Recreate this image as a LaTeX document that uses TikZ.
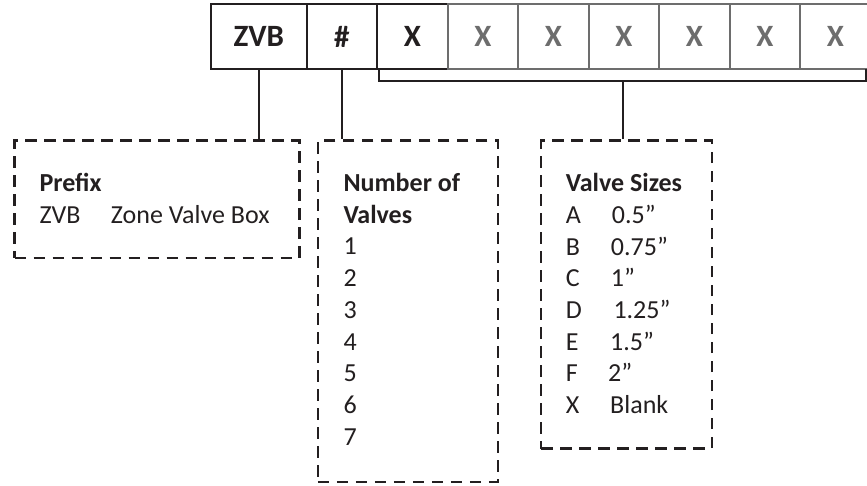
\documentclass[tikz,border=0pt]{standalone}
\usepackage{fontspec}
\setmainfont{Carlito}
\usepackage{xcolor}
\usetikzlibrary{positioning}
\definecolor{ink}{HTML}{231F20}
\definecolor{greyx}{HTML}{6D6D6D}
\begin{document}
\begin{tikzpicture}[x=1pt,y=-1pt,
	codebox/.style={draw=ink,line width=2pt,minimum width=70.5pt,minimum height=65pt,inner sep=0pt,outer sep=0pt,text=ink,font=\fontsize{31}{31}\selectfont\bfseries},
	greybox/.style={codebox,draw=greyx,text=greyx},
	conn/.style={draw=ink,line width=2.1pt},
	keybox/.style={draw=ink,line width=2.4pt,dash pattern=on 11.5pt off 7.5pt,anchor=north west,inner sep=0pt},
	keyhead/.style={anchor=base west,inner sep=0pt,text=ink,font=\fontsize{26}{30}\selectfont\bfseries},
	keyline/.style={anchor=base west,inner sep=0pt,text=ink,font=\fontsize{26}{30}\selectfont}]
	\useasboundingbox (0,0) rectangle (867,486);
	% code boxes
	\node[codebox,minimum width=95.7pt] (zvb) at (258.85,36.5) {ZVB};
	\node[codebox,right=0pt of zvb] (num) {\#};
	\node[codebox,right=0pt of num] (x1) {X};
	\foreach \i [evaluate=\i as \j using int(\i+1)] in {1,...,6}
		\node[greybox,right=0pt of x\i] (x\j) {X};
	% key boxes
	\node[keybox,minimum width=285pt,minimum height=117.4pt] (prefix) at (13.3,139.3) {};
	\node[keybox,minimum width=180pt,minimum height=341.4pt] (count) at (316.7,139.3) {};
	\node[keybox,minimum width=170.7pt,minimum height=308pt] (sizes) at (540,139.3) {};
	% connectors
	\draw[conn] (zvb.south) -- (zvb.south |- prefix.north);
	\draw[conn] (num.south) -- (num.south |- count.north);
	\coordinate (brk) at (866.3,69);
	\draw[conn] ([xshift=2pt]x1.south west) -- ++(0,12) -| (brk) coordinate[pos=0.25] (brkmid);
	\draw[conn] (brkmid) -- (brkmid |- sizes.north);
	% texts
	\node[keyhead] (prefixhead) at (39.3,191.7) {Prefix};
	\node[keyline] (prefixcode) at (39.3,223.3) {ZVB};
	\node[keyline] (prefixname) at (110.7,223.3) {Zone Valve Box};
	\node[keyhead] (counthead) at (343.3,191.7) {Number of};
	\node[keyhead] (counthead2) at (343.3,223.3) {Valves};
	\foreach \n in {1,...,7}
		\node[keyline] (count\n) at (343.3,{223.3+31.7*\n}) {\n};
	\node[keyhead] (sizeshead) at (565.7,191.7) {Valve Sizes};
	\foreach \c/\x/\s [count=\k] in {A/611.7/0.5”,B/610.7/0.75”,C/610.7/1”,D/613.3/1.25”,E/610/1.5”,F/608/2”,X/610/Blank}{
		\node[keyline] (size\c) at (565.7,{191.7+31.7*\k}) {\c};
		\node[keyline] (sizeval\c) at (\x,{191.7+31.7*\k}) {\s};
	}
\end{tikzpicture}
\end{document}
